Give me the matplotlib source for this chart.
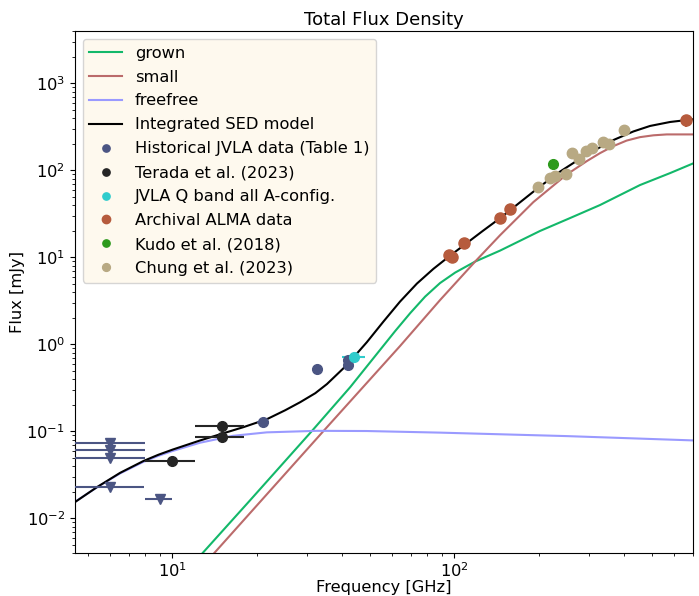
"""SED of the source: model components and flux density measurements."""
import numpy as np
import matplotlib
matplotlib.use('Agg')
import matplotlib.pyplot as plt
from matplotlib.ticker import NullFormatter

# model components [GHz, mJy]
freefree_nu = [4.51, 5.40, 6.52, 7.89, 8.90, 10.0, 12.5, 16.4, 21.6, 32.5, 48.9, 88.9, 250.0,
               700.0]
freefree_flux = [0.0155, 0.0228, 0.0329, 0.0447, 0.0523, 0.0595, 0.0740, 0.0890, 0.0975,
                 0.1015, 0.101, 0.0968, 0.0883, 0.0788]

grown_nu = [12.7, 18.86, 31.2, 42.7, 61.6, 69.7, 78.7, 88.9, 100.6, 118.4, 145.2, 201.0,
            257.0, 328.0, 455.0, 582.0, 700.0]
grown_flux = [0.0039, 0.0162, 0.1008, 0.323, 1.42, 2.29, 3.54, 5.07, 6.69, 8.95, 11.97, 20.1,
              28.3, 39.9, 67.8, 93.1, 119.7]

small_nu = [13.97, 34.3, 64.1, 88.9, 118.4, 145.2, 190.5, 250.0, 295.0, 328.5, 366.0, 408.0,
            455.0, 508.0, 566.0, 700.0]
small_flux = [0.0039, 0.1008, 0.956, 3.23, 8.95, 18.0, 43.2, 89.5, 128.0, 158.0, 190.0, 220.0,
              241.0, 253.0, 259.0, 259.0]

total_nu = [4.51, 4.90, 5.40, 6.52, 7.89, 8.90, 10.0, 12.5, 15.0, 17.86, 21.6, 25.1, 28.4,
            32.1, 35.3, 41.5, 48.9, 56.0, 64.1, 73.6, 84.2, 96.6, 108.4, 125.4, 145.5, 157.8,
            198.7, 237.0, 294.0, 366.0, 431.0, 494.0, 582.0, 700.0]
total_flux = [0.0154, 0.0185, 0.0229, 0.0334, 0.0457, 0.0538, 0.0617, 0.0785, 0.0942, 0.112,
              0.138, 0.175, 0.217, 0.275, 0.350, 0.578, 1.06, 1.83, 3.10, 5.00, 7.38, 10.5,
              13.9, 19.9, 28.4, 35.0, 63.4, 96.9, 152.0, 223.0, 280.0, 324.0, 360.0, 386.0]

# historical JVLA: detections and 3-sigma upper limits
jvla_nu = [21.0, 32.6, 42.0, 42.0]
jvla_flux = [0.128, 0.52, 0.58, 0.67]
jvla_nu_err = [1.0, 0.0, 0.0, 0.0]
jvla_lim_nu = [6.0, 6.0, 6.0, 6.0, 9.0]
jvla_lim_flux = [0.074, 0.061, 0.050, 0.023, 0.0166]
jvla_lim_nu_err = [2.0, 2.0, 2.0, 1.9, 1.0]

terada_nu = [10.0, 15.0, 15.0]
terada_flux = [0.0456, 0.115, 0.086]
terada_nu_err = [2.0, 3.0, 3.0]

qband_nu = [44.0]
qband_flux = [0.71]
qband_nu_err = [4.0]

alma_nu = [95.5, 98.0, 108.4, 145.0, 157.6, 661.0]
alma_flux = [10.6, 10.2, 14.5, 28.5, 35.6, 378.0]
alma_flux_err = [0.5, 0.5, 0.7, 1.4, 1.8, 60.0]
alma_nu_err = [0.0, 0.0, 0.0, 0.0, 0.0, 8.0]

kudo_nu = [224.0]
kudo_flux = [117.0]
kudo_nu_err = [4.0]

chung_nu = [198.6, 218.0, 227.0, 248.0, 262.0, 277.0, 293.0, 308.0, 336.0, 354.0, 400.0]
chung_flux = [64.8, 82.0, 86.0, 91.0, 159.0, 134.0, 167.0, 182.0, 211.0, 199.0, 288.0]

c_grown = '#13b86a'
c_small = '#bb6b6b'
c_ff = '#9a9aff'
c_jvla = '#4b5583'
c_terada = '#252525'
c_qband = '#30cccc'
c_alma = '#b65b3d'
c_kudo = '#2d9a1c'
c_chung = '#b8a983'

plt.rcParams['font.size'] = 11.7
ms = 7

fig = plt.figure(figsize=(6.99, 5.96), dpi=100)
ax = fig.add_axes([0.1069, 0.0721, 0.8841, 0.8759])

ax.plot(grown_nu, grown_flux, color=c_grown, lw=1.5, label='grown')
ax.plot(small_nu, small_flux, color=c_small, lw=1.5, label='small')
ax.plot(freefree_nu, freefree_flux, color=c_ff, lw=1.5, label='freefree')
ax.plot(total_nu, total_flux, color='black', lw=1.5, label='Integrated SED model')

ax.errorbar(jvla_lim_nu, jvla_lim_flux, xerr=jvla_lim_nu_err, fmt='v', color=c_jvla,
            ms=ms, lw=1.5, zorder=4)
ax.errorbar(jvla_nu, jvla_flux, xerr=jvla_nu_err, fmt='none', ecolor=c_jvla, lw=1.5, zorder=4)
ax.plot(jvla_nu, jvla_flux, 'o', color=c_jvla, ms=ms, zorder=5,
        label='Historical JVLA data (Table 1)')

ax.errorbar(terada_nu, terada_flux, xerr=terada_nu_err, fmt='none', ecolor=c_terada, lw=1.5,
            zorder=4)
ax.plot(terada_nu, terada_flux, 'o', color=c_terada, ms=ms, zorder=5,
        label='Terada et al. (2023)')

ax.errorbar(qband_nu, qband_flux, xerr=qband_nu_err, fmt='none', ecolor=c_qband, lw=1.5,
            zorder=4)
ax.plot(qband_nu, qband_flux, 'o', color=c_qband, ms=ms, zorder=5,
        label='JVLA Q band all A-config.')

ax.errorbar(alma_nu, alma_flux, xerr=alma_nu_err, yerr=alma_flux_err, fmt='none',
            ecolor=c_alma, lw=1.5, zorder=4)
ax.plot(alma_nu, alma_flux, 'o', color=c_alma, ms=ms + 1, zorder=5, label='Archival ALMA data')

ax.errorbar(kudo_nu, kudo_flux, xerr=kudo_nu_err, fmt='none', ecolor=c_kudo, lw=1.5, zorder=4)
ax.plot(kudo_nu, kudo_flux, 'o', color=c_kudo, ms=ms, zorder=5, label='Kudo et al. (2018)')

ax.errorbar(chung_nu, chung_flux, yerr=np.array(chung_flux) * 0.08, fmt='none',
            ecolor=c_chung, lw=1.5, zorder=4)
ax.plot(chung_nu, chung_flux, 'o', color=c_chung, ms=ms + 0.5, zorder=5,
        label='Chung et al. (2023)')

ax.set_xscale('log')
ax.set_yscale('log')
ax.set_xlim(4.5, 700)
ax.set_ylim(4e-3, 4e3)
ax.xaxis.set_minor_formatter(NullFormatter())
ax.tick_params(axis='x', which='major', pad=2.5)
ax.set_xlabel('Frequency [GHz]', labelpad=0)
ax.set_ylabel('Flux [mJy]', labelpad=1)
ax.set_title('Total Flux Density', fontsize=13, pad=4.5)

ax.legend(loc='upper left', facecolor='#fef8ea', markerscale=0.75, numpoints=1,
          labelspacing=0.55)

fig.savefig('out.png', dpi=100)
